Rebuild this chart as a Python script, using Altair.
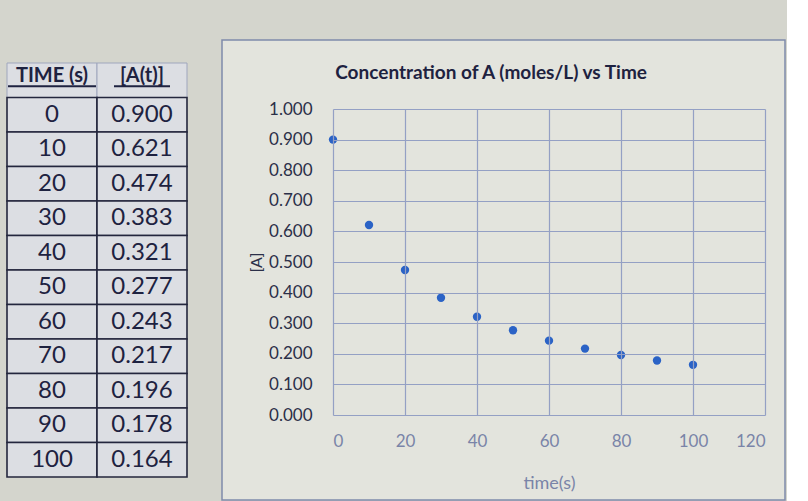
import altair as alt
import pandas as pd

# ---- data ----
time_s = [0, 10, 20, 30, 40, 50, 60, 70, 80, 90, 100]
conc = [0.900, 0.621, 0.474, 0.383, 0.321, 0.277, 0.243, 0.217, 0.196, 0.178, 0.164]
header = ["TIME (s)", "[A(t)]"]
x_ticks = [0, 20, 40, 60, 80, 100, 120]
y_ticks = [0.0, 0.1, 0.2, 0.3, 0.4, 0.5, 0.6, 0.7, 0.8, 0.9, 1.0]
chart_title = "Concentration of A (moles/L) vs Time"
x_title = "time(s)"
y_title = "[A]"

TEXT = "#1e2240"
FONT = "Lato"

# ---- table ----
rows = ["hdr"] + [str(t) for t in time_s]
cols = ["c1", "c2"]
cells = []
for t, c in zip(time_s, conc):
    cells.append({"row": str(t), "col": "c1", "txt": str(t)})
    cells.append({"row": str(t), "col": "c2", "txt": f"{c:.3f}"})
cells_df = pd.DataFrame(cells)
hdr_df = pd.DataFrame({"row": ["hdr", "hdr"], "col": cols, "txt": header})

ty = alt.Y("row:N", sort=rows,
           scale=alt.Scale(domain=rows, range=[-46, 368], paddingInner=0, paddingOuter=0),
           axis=None)
tx = alt.X("col:N", sort=cols,
           scale=alt.Scale(domain=cols, paddingInner=0, paddingOuter=0),
           axis=None)

hdr_box = alt.Chart(hdr_df).mark_rect(fill="#dcdee3", stroke="#9fa6bd", strokeWidth=1).encode(x=tx, y=ty)
cell_box = alt.Chart(cells_df).mark_rect(fill="#dcdee3", stroke="#23263d", strokeWidth=1.6).encode(x=tx, y=ty)
cell_txt = alt.Chart(cells_df).mark_text(font=FONT, fontSize=24, color=TEXT).encode(x=tx, y=ty, text="txt:N")
hdr_txt = alt.Chart(hdr_df).mark_text(font=FONT, fontSize=20, fontWeight="bold", color=TEXT, dy=-4).encode(
    x=tx, y=ty, text="txt:N")
ul1 = alt.Chart(hdr_df[hdr_df["col"] == "c1"]).mark_tick(
    orient="horizontal", size=88, thickness=2, color=TEXT, yOffset=6, opacity=1).encode(x=tx, y=ty)
ul2 = alt.Chart(hdr_df[hdr_df["col"] == "c2"]).mark_tick(
    orient="horizontal", size=56, thickness=2, color=TEXT, yOffset=6, opacity=1).encode(x=tx, y=ty)

table = alt.layer(hdr_box, cell_box, cell_txt, hdr_txt, ul1, ul2).properties(
    width=180, height=306, view=alt.ViewBackground(stroke="transparent"))

# ---- scatter ----
df = pd.DataFrame({"time": time_s, "conc": conc})

frame = alt.Chart(pd.DataFrame({"k": [0]})).mark_rect(
    fill="#e3e4dd", stroke="#7f8aab", strokeWidth=1.5).encode(
    x=alt.value(-111), x2=alt.value(452), y=alt.value(-69), y2=alt.value(391))

pts = alt.Chart(df).mark_circle(size=70, color="#2b63c6", opacity=1).encode(
    x=alt.X("time:Q", scale=alt.Scale(domain=[0, 120], nice=False),
            axis=alt.Axis(values=x_ticks, title=x_title, grid=True, gridColor="#94a0c4", gridWidth=1.2,
                          domain=False, ticks=False, labelFont=FONT, labelFontSize=17, labelColor="#7a84a8",
                          labelPadding=18, titleFont=FONT, titleFontSize=18, titleFontWeight="normal",
                          titleColor="#7a84a8", titlePadding=25, zindex=1)),
    y=alt.Y("conc:Q", scale=alt.Scale(domain=[0, 1], nice=False),
            axis=alt.Axis(values=y_ticks, format=".3f", title=y_title, grid=True, gridColor="#94a0c4",
                          gridWidth=1.2, domain=False, ticks=False, labelFont=FONT, labelFontSize=17,
                          labelColor="#2b2f48", labelPadding=21, titleFont=FONT, titleFontSize=16,
                          titleFontWeight="normal", titleColor="#2b2f48", titlePadding=4, zindex=1)),
)

scatter = alt.layer(frame, pts).properties(
    width=432, height=306,
    title=alt.TitleParams(chart_title, font=FONT, fontSize=19, fontWeight="bold", color=TEXT,
                          anchor="start", offset=-44, dx=114),
    view=alt.ViewBackground(stroke="#94a0c4", strokeWidth=1.2),
)

chart = alt.hconcat(table, scatter, spacing=31).properties(
    padding={"left": 5, "top": 38, "right": 0, "bottom": 0},
    background="#d4d5cd",
)

chart.save("out.html", embed_options={"renderer": "svg", "actions": False})
